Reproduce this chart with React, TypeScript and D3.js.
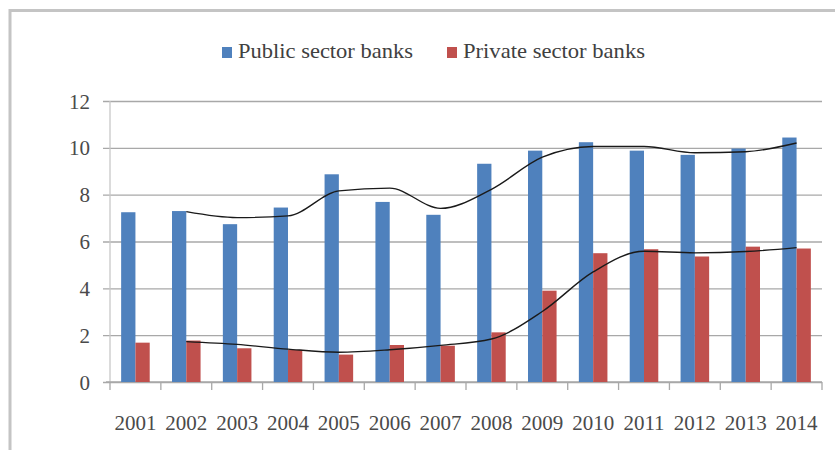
import React, { useEffect, useRef } from 'react';
import * as d3 from 'd3';

const years = ['2001', '2002', '2003', '2004', '2005', '2006', '2007', '2008', '2009', '2010', '2011', '2012', '2013', '2014'];
const publicBanks = [7.25, 7.3, 6.74, 7.45, 8.87, 7.69, 7.14, 9.32, 9.88, 10.24, 9.88, 9.7, 9.97, 10.44];
const privateBanks = [1.68, 1.77, 1.44, 1.37, 1.17, 1.58, 1.55, 2.12, 3.9, 5.5, 5.67, 5.36, 5.78, 5.7];
const yTicks = [0, 2, 4, 6, 8, 10, 12];
const seriesNames = ['Public sector banks', 'Private sector banks'];
const seriesColors = ['#4f81bd', '#c0504d'];

const W = 835;
const H = 450;
const FONT = '"Liberation Serif", "DejaVu Serif", serif';

// 2-period moving average, like the Excel trendline in the source chart
const movingAvg = (vals: number[]) =>
  vals.map((v, i) => (i === 0 ? null : { i, v: (vals[i - 1] + v) / 2 })).filter(d => d !== null) as { i: number; v: number }[];

const App: React.FC = () => {
  const svgRef = useRef<SVGSVGElement>(null);

  useEffect(() => {
    if (!svgRef.current) return;
    const margin = { top: 101, right: 13, bottom: 68, left: 110 };
    const width = W - margin.left - margin.right;
    const height = H - margin.top - margin.bottom;

    d3.select(svgRef.current).selectAll('*').remove();
    const root = d3.select(svgRef.current);

    // outer frame (only top/left visible in the picture)
    root.append('rect').attr('x', 10).attr('y', 10.5).attr('width', W + 20).attr('height', H + 20)
      .attr('fill', '#fff').attr('stroke', '#c4c4c4').attr('stroke-width', 3);

    const svg = root.append('g').attr('transform', `translate(${margin.left},${margin.top})`);

    const x0 = d3.scaleBand<string>().domain(years).range([0, width]).padding(0);
    const x1 = d3.scaleBand<number>().domain([0, 1]).range([0, x0.bandwidth()]).paddingInner(0).paddingOuter(0.78);
    const y = d3.scaleLinear().domain([0, 12]).range([height, 0]);

    // gridlines + y ticks
    const yAxis = d3.axisLeft(y).tickValues(yTicks).tickSize(-width - 7).tickPadding(14).tickFormat(d3.format('d'));
    const gy = svg.append('g').attr('transform', 'translate(-7,0)').call(yAxis);
    gy.select('.domain').remove();
    gy.selectAll('.tick line').attr('stroke', '#a8a8a8').attr('stroke-width', 1.3);
    gy.selectAll('.tick text').attr('font-family', FONT).attr('font-size', 21).attr('fill', '#4a4a4a').attr('x', -13).attr('dy', '0.34em');

    svg.append('line').attr('x1', 0).attr('x2', 0).attr('y1', 0).attr('y2', height)
      .attr('stroke', '#c8c8c8').attr('stroke-width', 1.3);

    // x axis with ticks between categories
    const gx = svg.append('g').attr('transform', `translate(0,${height})`);
    gx.append('line').attr('x1', -4).attr('x2', width).attr('stroke', '#a8a8a8').attr('stroke-width', 1.3);
    gx.selectAll('.xt').data(d3.range(years.length + 1)).enter().append('line')
      .attr('x1', d => d * x0.step()).attr('x2', d => d * x0.step())
      .attr('y1', 0).attr('y2', 8).attr('stroke', '#a8a8a8').attr('stroke-width', 1.3);
    gx.selectAll('.xl').data(years).enter().append('text')
      .attr('x', d => (x0(d) as number) + x0.bandwidth() / 2).attr('y', 48)
      .attr('text-anchor', 'middle').attr('font-family', FONT).attr('font-size', 21).attr('fill', '#4a4a4a')
      .text(d => d);

    // bars
    const series = [publicBanks, privateBanks];
    series.forEach((vals, s) => {
      svg.selectAll(`.bar${s}`).data(vals).enter().append('rect')
        .attr('x', (d, i) => (x0(years[i]) as number) + (x1(s) as number))
        .attr('width', x1.bandwidth())
        .attr('y', d => y(d)).attr('height', d => height - y(d))
        .attr('fill', seriesColors[s]);
    });

    // moving average trendlines
    const line = d3.line<{ i: number; v: number }>()
      .x(d => (x0(years[d.i]) as number) + x0.bandwidth() / 2)
      .y(d => y(d.v))
      .curve(d3.curveMonotoneX);
    series.forEach(vals => {
      svg.append('path').attr('d', line(movingAvg(vals)) as string)
        .attr('fill', 'none').attr('stroke', '#1a1a1a').attr('stroke-width', 1.4);
    });

    // legend
    const legendX = [222, 447];
    const legendLen = [175, 182];
    const lg = root.append('g');
    seriesNames.forEach((name, s) => {
      lg.append('rect').attr('x', legendX[s]).attr('y', 47).attr('width', 10).attr('height', 11).attr('fill', seriesColors[s]);
      lg.append('text').attr('x', legendX[s] + 16).attr('y', 58).attr('font-family', FONT).attr('font-size', 21)
        .attr('fill', '#404040').attr('textLength', legendLen[s]).attr('lengthAdjust', 'spacingAndGlyphs').text(name);
    });
  }, []);

  return <svg ref={svgRef} width={W} height={H} style={{ position: 'absolute', left: 0, top: 0, background: '#fff' }} />;
};

export default App;
